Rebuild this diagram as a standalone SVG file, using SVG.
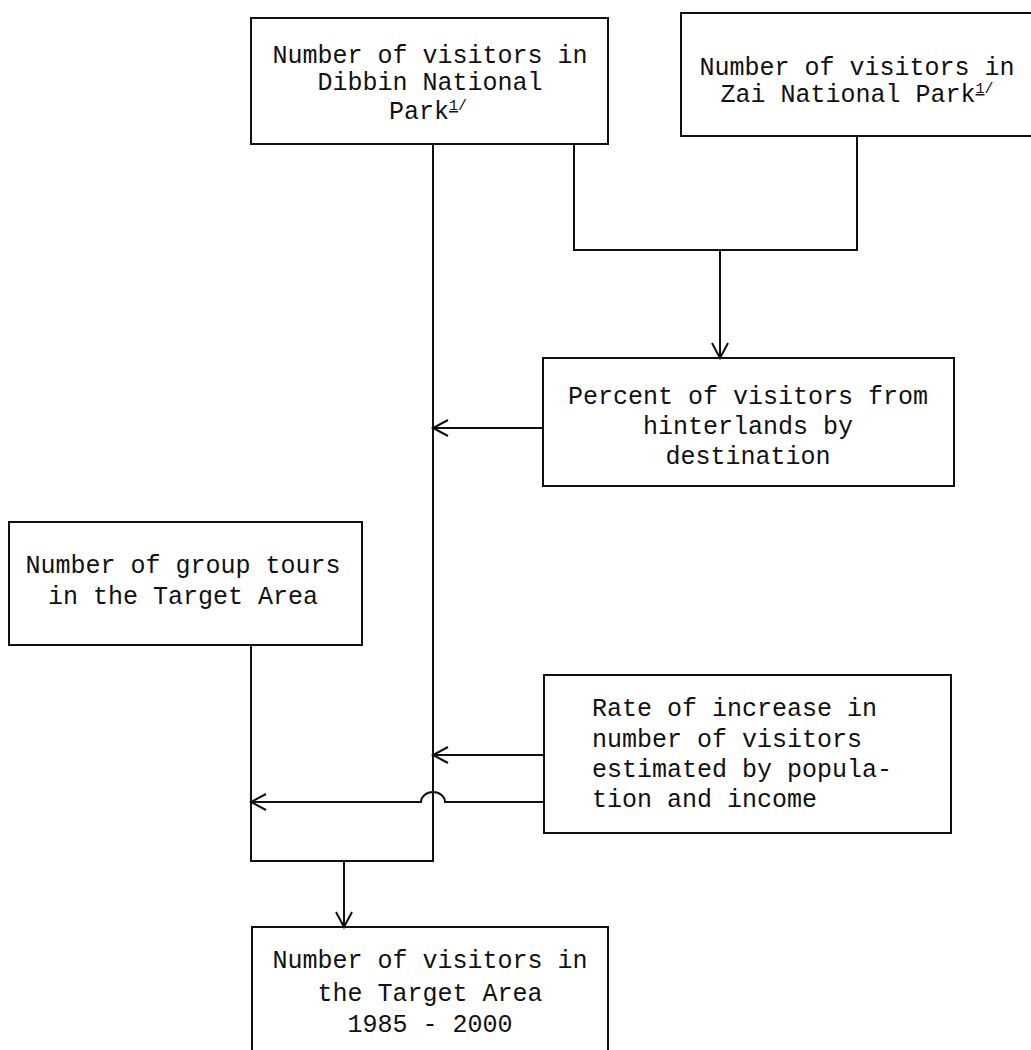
<svg xmlns="http://www.w3.org/2000/svg" width="1031" height="1050" viewBox="0 0 1031 1050">
<defs>
<style>
.box{fill:none;stroke:#111;stroke-width:2}
.ln{fill:none;stroke:#111;stroke-width:2}
.t{font-family:"Liberation Mono","DejaVu Sans Mono",monospace;font-size:25px;fill:#111}
.c{text-anchor:middle}
.sup{font-size:15px}
</style>
<marker id="ah" markerUnits="userSpaceOnUse" markerWidth="20" markerHeight="20" viewBox="-17 -10 20 20" refX="0" refY="0" orient="auto">
<path d="M -15 -8 L 0 0 L -15 8" fill="none" stroke="#111" stroke-width="2"/>
</marker>
</defs>
<rect width="1031" height="1050" fill="#fff"/>
<g id="connectors">
<path class="ln" d="M 433 144 L 433 861 L 251 861 L 251 645"/>
<path class="ln" d="M 574 144 L 574 250 L 857 250 L 857 136"/>
<path class="ln" d="M 720 250 L 720 358" marker-end="url(#ah)"/>
<path class="ln" d="M 543 428 L 433 428" marker-end="url(#ah)"/>
<path class="ln" d="M 544 755 L 433 755" marker-end="url(#ah)"/>
<path class="ln" d="M 544 802 L 445 802 A 12 10 0 0 0 421 802 L 251 802" marker-end="url(#ah)"/>
<path class="ln" d="M 344 861 L 344 927" marker-end="url(#ah)"/>
</g>
<g id="dibbin">
<rect class="box" x="251" y="18" width="357" height="126"/>
<text class="t c" x="430" y="63">Number of visitors in</text>
<text class="t c" x="430" y="90">Dibbin National</text>
<text class="t c" x="428" y="119">Park<tspan class="sup" dy="-9" text-decoration="underline">1</tspan><tspan class="sup">/</tspan></text>
</g>
<g id="zai">
<rect class="box" x="681" y="13" width="370" height="123"/>
<text class="t c" x="857" y="75">Number of visitors in</text>
<text class="t c" x="857" y="102">Zai National Park<tspan class="sup" dy="-9" text-decoration="underline">1</tspan><tspan class="sup">/</tspan></text>
</g>
<g id="percent">
<rect class="box" x="543" y="358" width="411" height="128"/>
<text class="t c" x="748" y="404">Percent of visitors from</text>
<text class="t c" x="748" y="434">hinterlands by</text>
<text class="t c" x="748" y="464">destination</text>
</g>
<g id="grouptours">
<rect class="box" x="9" y="522" width="353" height="123"/>
<text class="t c" x="183" y="573">Number of group tours</text>
<text class="t c" x="183" y="604">in the Target Area</text>
</g>
<g id="rate">
<rect class="box" x="544" y="675" width="407" height="158"/>
<text class="t" x="592" y="716">Rate of increase in</text>
<text class="t" x="592" y="747">number of visitors</text>
<text class="t" x="592" y="777">estimated by popula-</text>
<text class="t" x="592" y="807">tion and income</text>
</g>
<g id="target">
<rect class="box" x="252" y="927" width="356" height="140"/>
<text class="t c" x="430" y="968">Number of visitors in</text>
<text class="t c" x="430" y="1001">the Target Area</text>
<text class="t c" x="430" y="1032">1985 - 2000</text>
</g>
</svg>
